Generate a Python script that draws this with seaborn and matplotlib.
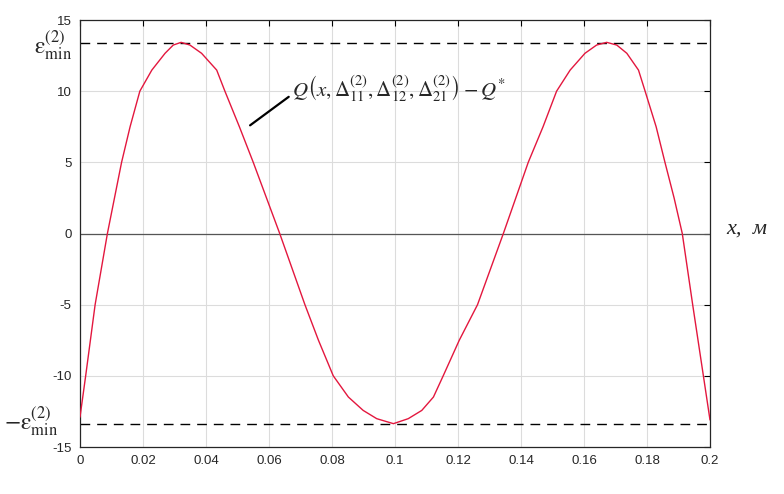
import pandas as pd
import matplotlib
matplotlib.use('Agg')
import matplotlib.pyplot as plt
import seaborn as sns

# Curve points
x_vals = [0.0, 0.0018, 0.0048, 0.0087, 0.0132, 0.0159, 0.019, 0.0228, 0.027,
          0.0296, 0.0321, 0.0349, 0.0386, 0.0434, 0.046, 0.0506, 0.055, 0.0634,
          0.0714, 0.0757, 0.0804, 0.0852, 0.0899, 0.0942, 0.0995, 0.1042, 0.1085,
          0.1122, 0.1153, 0.1204, 0.1262, 0.1344, 0.1381, 0.1423, 0.147, 0.1513,
          0.1556, 0.1603, 0.164, 0.1672, 0.1704, 0.1736, 0.1773, 0.1794, 0.1829,
          0.1857, 0.1886, 0.1912, 0.1945, 0.1979, 0.2]
y_vals = [-12.9, -10.0, -5.0, 0.0, 5.0, 7.5, 10.0, 11.48, 12.66,
          13.24, 13.43, 13.24, 12.66, 11.48, 10.0, 7.5, 5.0, 0.0,
          -5.0, -7.5, -10.0, -11.49, -12.43, -13.01, -13.36, -13.01, -12.43,
          -11.49, -10.0, -7.5, -5.0, 0.0, 2.34, 5.0, 7.5, 10.0,
          11.48, 12.66, 13.24, 13.43, 13.24, 12.66, 11.48, 10.0, 7.5,
          5.0, 2.5, 0.0, -5.0, -10.0, -13.1]
eps_min = 13.4

x_ticks = [0, 0.02, 0.04, 0.06, 0.08, 0.1, 0.12, 0.14, 0.16, 0.18, 0.2]
x_tick_labels = ['0', '0.02', '0.04', '0.06', '0.08', '0.1', '0.12', '0.14', '0.16', '0.18', '0.2']
y_ticks = [-15, -10, -5, 0, 5, 10, 15]

df = pd.DataFrame({'x': x_vals, 'y': y_vals})

sns.set_style('white')
plt.rcParams['font.family'] = ['Liberation Sans', 'DejaVu Sans']
plt.rcParams['mathtext.fontset'] = 'stix'
plt.rcParams['axes.unicode_minus'] = False

fig = plt.figure(figsize=(7.84, 4.94), dpi=100)
ax = fig.add_axes([80 / 784, 1 - 447 / 494, 630 / 784, 427 / 494])

ax.grid(True, color='#dcdcdc', lw=0.8)
ax.axhline(0, color='#555555', lw=0.9, zorder=1)
for v in (eps_min, -eps_min):
    ax.axhline(v, color='black', lw=1.0, ls=(0, (7, 5)), zorder=2)

sns.lineplot(data=df, x='x', y='y', ax=ax, color='#e3173e', lw=1.0, zorder=3)

ax.set_xlim(0, 0.2)
ax.set_ylim(-15, 15)
ax.set_xticks(x_ticks)
ax.set_xticklabels(x_tick_labels)
ax.set_yticks(y_ticks)
ax.set_xlabel('')
ax.set_ylabel('')
ax.tick_params(direction='in', top=True, right=True, length=4, width=0.8, pad=6,
               labelsize=9.5, colors='black', labelcolor='#262626')
for s in ax.spines.values():
    s.set_color('#262626')
    s.set_linewidth(0.9)

# labels outside the axes
ax.text(-0.0025, 12.68, r'$\mathrm{\varepsilon}_{\min}^{(2)}$', ha='right', va='baseline',
        fontsize=17, clip_on=False)
ax.text(-0.007, -13.76, r'$-\mathrm{\varepsilon}_{\min}^{(2)}$', ha='right', va='baseline',
        fontsize=17, clip_on=False)
ax.text(0.2053, 0.3, 'x,  м', family='Liberation Serif', style='italic', fontsize=16,
        ha='left', va='center', clip_on=False)

# curve annotation
ax.annotate(r'$Q\left(x,\Delta_{11}^{(2)},\Delta_{12}^{(2)},\Delta_{21}^{(2)}\right)-Q^{*}$',
            xy=(0.054, 7.6), xytext=(0.0673, 10.2), ha='left', va='center', fontsize=15,
            arrowprops=dict(arrowstyle='-', color='black', lw=1.6, shrinkA=0, shrinkB=0,
                            relpos=(0, 0.3)))

plt.savefig('out.png', dpi=100)
